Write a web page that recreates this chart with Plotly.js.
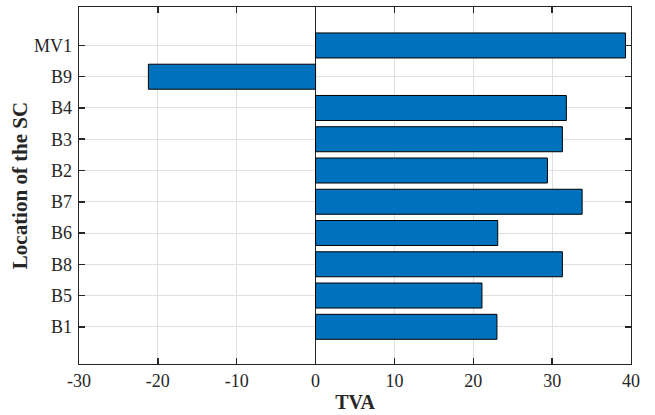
<!DOCTYPE html>
<html>
<head>
<meta charset="utf-8">
<script src="https://cdn.plot.ly/plotly-3.0.1.min.js"></script>
<style>html,body{margin:0;padding:0;background:#fff;}#chart{width:655px;height:415px;}</style>
</head>
<body>
<div id="chart"></div>
<script>
const locations = ["B1", "B5", "B8", "B6", "B7", "B2", "B3", "B4", "B9", "MV1"];
const tvaValues = [23.0, 21.1, 31.3, 23.1, 33.8, 29.4, 31.3, 31.8, -21.2, 39.3];
const xTickValues = [-30, -20, -10, 0, 10, 20, 30, 40];

const fontFamily = 'Liberation Serif';
const axisColor = '#262626';

const trace = {
  type: 'bar',
  orientation: 'h',
  y: locations,
  x: tvaValues,
  width: 0.8,
  marker: {color: '#0072BD', line: {color: '#000000', width: 1}},
  hoverinfo: 'x+y'
};

const layout = {
  width: 655,
  height: 415,
  margin: {l: 79, r: 24, t: 7, b: 51, pad: 0},
  paper_bgcolor: '#ffffff',
  plot_bgcolor: '#ffffff',
  showlegend: false,
  font: {family: fontFamily, size: 18, color: axisColor},
  xaxis: {
    range: [-30, 40],
    tickvals: xTickValues,
    ticktext: xTickValues.map(String),
    showgrid: true,
    gridcolor: '#e0e0e0',
    gridwidth: 1,
    zeroline: true,
    zerolinecolor: axisColor,
    zerolinewidth: 1,
    showline: true,
    linecolor: axisColor,
    linewidth: 1.3,
    mirror: 'ticks',
    ticks: 'inside',
    ticklen: 6,
    tickwidth: 1.5,
    tickcolor: axisColor,
    tickfont: {family: fontFamily, size: 18, color: axisColor},
    title: {text: '<b>TVA</b>', font: {family: fontFamily, size: 20, color: axisColor}, standoff: 5}
  },
  yaxis: {
    type: 'category',
    range: [-1.19, 10.23],
    showgrid: true,
    gridcolor: '#e0e0e0',
    gridwidth: 1,
    zeroline: false,
    showline: true,
    linecolor: axisColor,
    linewidth: 1.3,
    mirror: 'ticks',
    ticks: 'inside',
    ticklen: 6,
    tickwidth: 1.5,
    tickcolor: axisColor,
    ticklabelstandoff: 2,
    tickfont: {family: fontFamily, size: 18, color: axisColor},
    title: {text: '<b>Location of the SC</b>', font: {family: fontFamily, size: 21, color: axisColor}, standoff: 0}
  }
};

Plotly.newPlot('chart', [trace], layout, {displayModeBar: false, staticPlot: true});
</script>
</body>
</html>
